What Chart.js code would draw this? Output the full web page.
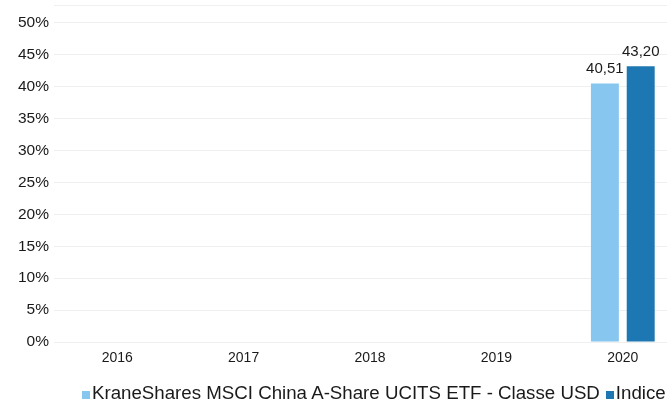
<!DOCTYPE html>
<html>
<head>
<meta charset="utf-8">
<script src="https://cdn.jsdelivr.net/npm/chart.js@4.4.0/dist/chart.umd.min.js"></script>
<style>
  html, body { margin: 0; padding: 0; background: #ffffff; overflow: hidden; width: 667px; height: 401px; }
  #wrap { position: relative; width: 700px; height: 401px; }
  #legend { position: absolute; left: 82px; top: 382.5px; white-space: nowrap;
            font-family: "Liberation Sans", Arial, sans-serif; font-size: 18.7px; color: #1a1a1a; line-height: 20px; }
  #legend span.item { display: inline-block; margin-right: 0px; }
  #legend span.box { display: inline-block; width: 8px; height: 8px; margin-right: 2px; vertical-align: 0px; }
</style>
</head>
<body>
<div id="wrap">
  <canvas id="c" width="700" height="401" style="width:700px;height:401px"></canvas>
  <div id="legend"></div>
</div>
<script>
const categories = ["2016", "2017", "2018", "2019", "2020"];
const seriesNames = ["KraneShares MSCI China A-Share UCITS ETF - Classe USD", "Indice"];
const fundValues = [null, null, null, null, 40.51];
const indexValues = [null, null, null, null, 43.20];
const yTickValues = [0, 5, 10, 15, 20, 25, 30, 35, 40, 45, 50];
const colors = ["#86C6EF", "#1C77B2"];

const fmt = v => v.toFixed(2).replace('.', ',');
const FONT = '"Liberation Sans", Arial, sans-serif';

const valueLabels = {
  id: 'valueLabels',
  afterDatasetsDraw(chart) {
    const ctx = chart.ctx;
    ctx.save();
    ctx.font = '15px ' + FONT;
    ctx.fillStyle = '#1a1a1a';
    ctx.textAlign = 'center';
    ctx.textBaseline = 'alphabetic';
    chart.data.datasets.forEach((ds, i) => {
      const meta = chart.getDatasetMeta(i);
      meta.data.forEach((bar, j) => {
        const v = ds.data[j];
        if (v === null || v === undefined) return;
        ctx.fillText(fmt(v), bar.x, bar.y - 10);
      });
    });
    ctx.restore();
  }
};

new Chart(document.getElementById('c'), {
  type: 'bar',
  data: {
    labels: categories,
    datasets: [
      { label: seriesNames[0], data: fundValues, backgroundColor: colors[0] },
      { label: seriesNames[1], data: indexValues, backgroundColor: colors[1] }
    ]
  },
  options: {
    responsive: false,
    animation: false,
    devicePixelRatio: 1,
    layout: { padding: { top: 5, right: 14, bottom: 29, left: 0 } },
    plugins: { legend: { display: false }, tooltip: { enabled: false } },
    datasets: { bar: { categoryPercentage: 0.567, barPercentage: 0.78 } },
    scales: {
      x: {
        grid: { display: false, drawTicks: false },
        border: { display: false },
        ticks: { color: '#1a1a1a', padding: 8, font: { family: FONT, size: 14 } },
        afterFit(s) { s.height = 30; }
      },
      y: {
        min: 0,
        max: 52.8,
        grid: { color: '#efefef', lineWidth: 1, drawTicks: false },
        border: { display: false },
        afterBuildTicks(s) { s.ticks = yTickValues.map(v => ({ value: v })).concat([{ value: 52.8 }]); },
        ticks: {
          color: '#1a1a1a', padding: 5,
          font: c => (c.tick && yTickValues.includes(c.tick.value)) ? { family: FONT, size: 15.5 } : { family: FONT, size: 1, lineHeight: 0.1 },
          callback: v => (yTickValues.includes(v) ? v + '%' : '')
        },
        afterFit(s) { s.width = 54; }
      }
    }
  },
  plugins: [valueLabels]
});

const legend = document.getElementById('legend');
seriesNames.forEach((name, i) => {
  const item = document.createElement('span');
  item.className = 'item';
  if (i > 0) item.style.marginLeft = '6px';
  const box = document.createElement('span');
  box.className = 'box';
  box.style.background = colors[i];
  item.appendChild(box);
  item.appendChild(document.createTextNode(name));
  legend.appendChild(item);
});
</script>
</body>
</html>
